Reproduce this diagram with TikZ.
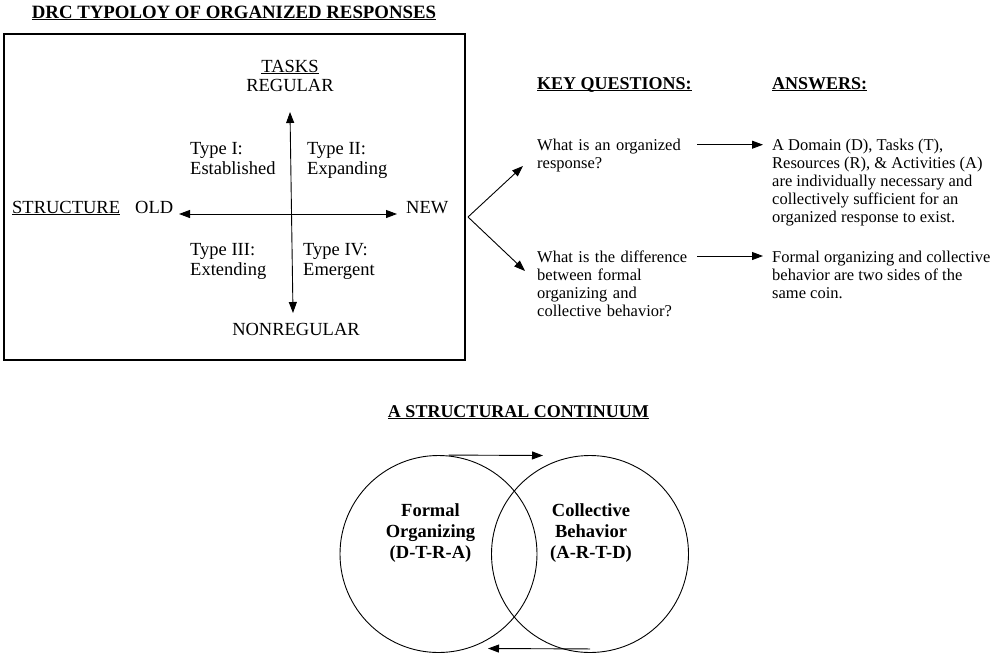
\documentclass[tikz,border=0pt]{standalone}
\usepackage{fontspec}
\setmainfont{Liberation Serif}
\usetikzlibrary{arrows.meta}
\newcommand{\undl}[1]{\underline{\smash{#1}}}
\tikzset{
  arr/.style={-{Triangle[length=11pt,width=8pt]},line width=0.9pt},
  biarr/.style={{Triangle[length=11pt,width=8pt]}-{Triangle[length=11pt,width=8pt]},line width=0.9pt},
  big/.style={font=\fontsize{18.5}{20}\selectfont,inner sep=0pt},
  small/.style={font=\fontsize{16.5}{18}\selectfont,inner sep=0pt,align=left,anchor=north west},
  head/.style={font=\fontsize{18}{20}\bfseries,inner sep=0pt,anchor=base},
  circtxt/.style={font=\fontsize{18.5}{21}\bfseries,inner sep=0pt,align=center},
  ring/.style={circle,draw,line width=0.9pt,minimum size=197pt,inner sep=0pt}
}
\begin{document}
\begin{tikzpicture}[x=1pt,y=-1pt]
   \useasboundingbox (0,0) rectangle (1004,654);
   % typology
   \node[head,font=\fontsize{18.8}{20}\bfseries] (title) at (234,18) {\undl{DRC TYPOLOY OF ORGANIZED RESPONSES}};
   \draw[line width=1.3pt] (4,34) rectangle (465,360);
   \node[big,anchor=base] (tasks) at (290,72) {\undl{TASKS}};
   \node[big,anchor=base] (regular) at (290,91) {REGULAR};
   \node[big,anchor=base] (nonregular) at (296,335) {NONREGULAR};
   \node[big,anchor=base west] (structure) at (12,213) {\undl{STRUCTURE}};
   \node[big,anchor=base west] (old) at (135,213) {OLD};
   \node[big,anchor=base west] (new) at (406,213) {NEW};
   \node[big,align=left,anchor=north west] (type1) at (190,141.8) {Type I:\\Established};
   \node[big,align=left,anchor=north west] (type2) at (307,141.8) {Type II:\\Expanding};
   \node[big,align=left,anchor=north west] (type3) at (190,242.8) {Type III:\\Extending};
   \node[big,align=left,anchor=north west] (type4) at (303,242.8) {Type IV:\\Emergent};
   \coordinate (westtip) at (179,214);
   \coordinate (easttip) at (397,214);
   \coordinate (northtip) at (290,112);
   \coordinate (southtip) at (293,313);
   \draw[biarr] (westtip) -- (easttip);
   \draw[biarr] (northtip) -- (southtip);
   % questions and answers
   \node[head,anchor=base west] (keyq) at (537,89) {\undl{KEY QUESTIONS:}};
   \node[head,anchor=base west] (answers) at (772,89) {\undl{ANSWERS:}};
   \node[small,text width=160pt] (q1) at (537,138.7) {What is an organized\\response?};
   \node[small,text width=160pt] (q2) at (537,250.7)
   {What is the difference\\between formal\\organizing and\\collective behavior?};
   \node[small,inner xsep=9pt] (a1) at (763,138.7)
   {A Domain (D), Tasks (T),\\Resources (R), \& Activities (A)\\are individually necessary and\\collectively sufficient for an\\organized response to exist.};
   \node[small,inner xsep=9pt] (a2) at (763,250.7)
   {Formal organizing and collective\\behavior are two sides of the\\same coin.};
   \coordinate (fork) at (468,217);
   \coordinate (q1tip) at (523,166);
   \coordinate (q2tip) at (525,271);
   \draw[arr] (fork) -- (q1tip);
   \draw[arr] (fork) -- (q2tip);
   \coordinate (q1out) at ([yshift=-6pt]q1.north east);
   \coordinate (q2out) at ([yshift=-5.3pt]q2.north east);
   \draw[arr] (q1out) -- (q1out -| a1.west);
   \draw[arr] (q2out) -- (q2out -| a2.west);
   % continuum
   \node[head] (continuum) at (518.5,417) {\undl{A STRUCTURAL CONTINUUM}};
   \node[ring] (formal) at (438.5,554) {};
   \node[ring] (collective) at (590,554) {};
   \node[circtxt] (formaltxt) at (430.5,533) {Formal\\Organizing\\(D-T-R-A)};
   \node[circtxt] (collectivetxt) at (591,533) {Collective\\Behavior\\(A-R-T-D)};
   \coordinate (topstart) at ([xshift=10pt]formal.north);
   \coordinate (toptip) at (543,455.5);
   \coordinate (botstart) at ([yshift=4pt]collective.south);
   \coordinate (bottip) at (488,648.5);
   \draw[arr] (topstart) -- (toptip);
   \draw[arr] (botstart) -- (bottip);
\end{tikzpicture}
\end{document}
